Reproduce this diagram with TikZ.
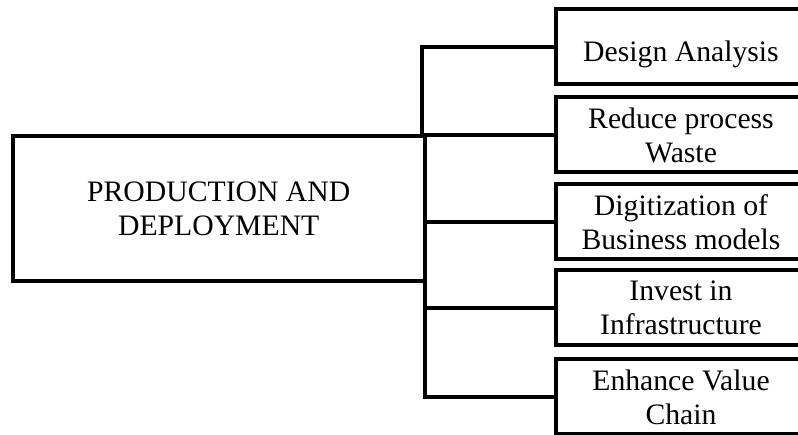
\documentclass[tikz,border=0pt]{standalone}
\usepackage{fontspec}
\setmainfont{Liberation Serif}
\begin{document}
\begin{tikzpicture}[x=1pt,y=-1pt,
  box/.style={draw, line width=4pt, rectangle, inner sep=0pt, outer sep=0pt,
    align=center, font=\fontsize{29.7}{34}\selectfont},
  leaf/.style={box, minimum width=250pt, minimum height=75pt},
  link/.style={line width=4pt}]
\useasboundingbox (0,0) rectangle (798,435);
\clip (0,0) rectangle (798,435);

% central block
\node[box, minimum width=412.5pt, minimum height=145pt] (main) at (218.75,208.5)
  {PRODUCTION AND\\DEPLOYMENT};

% branch blocks
\node[leaf, text height=37pt, text depth=7pt] (b1) at (681,47) {Design Analysis};
\node[leaf] (b2) at (681,135) {Reduce process\\Waste};
\node[leaf] (b3) at (681,222) {Digitization of\\Business models};
\node[leaf] (b4) at (681,308) {Invest in\\Infrastructure};
\node[leaf] (b5) at (681,397) {Enhance Value\\Chain};

% connectors
\coordinate (j1) at (422,135);
\draw[link] (b1.west) -| (j1) -- (b2.west);
\draw[link] (main.north east) -- (main.north east |- b5.west) -- (b5.west);
\draw[link] (main.east |- b3.west) -- (b3.west);
\draw[link] (main.east |- b4.west) -- (b4.west);
\end{tikzpicture}
\end{document}
